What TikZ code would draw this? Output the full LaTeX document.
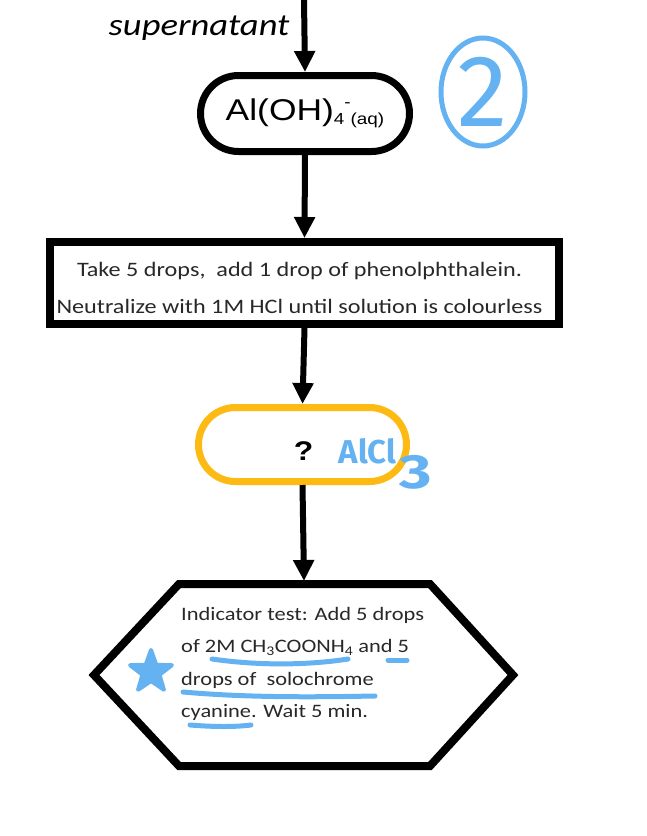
\documentclass[tikz,border=0pt]{standalone}
\usepackage{fontspec}
\usetikzlibrary{arrows.meta,shapes.misc,shapes.geometric}
\newfontfamily\boxfont[FakeStretch=1.18]{Carlito}
\newfontfamily\arialfont[FakeStretch=1.18]{Liberation Sans}
\newfontfamily\handfont{Fira Sans}
\definecolor{pen}{RGB}{100,178,242}
\definecolor{amber}{RGB}{252,186,18}
\definecolor{ink}{RGB}{40,40,40}
\begin{document}
\begin{tikzpicture}[x=1pt,y=-1pt,
  flow/.style={line width=6pt,-{Triangle[length=21pt,width=20pt]}},
  stad/.style={rounded rectangle, draw, line width=7pt, minimum width=209pt,
    minimum height=76pt, inner sep=0pt},
  stepbox/.style={draw, line width=8pt, minimum width=509pt, minimum height=82pt,
    inner sep=0pt, align=center, text=ink,
    font=\boxfont\fontsize{20.5}{37}\selectfont},
  annot/.style={draw=pen, line width=5pt, line cap=round, line join=round}]
\useasboundingbox (0,0) rectangle (647,836);

\coordinate (top) at (304,0);
\node[anchor=base east, font=\boxfont\itshape\fontsize{31}{31}\selectfont] (sup) at (293,35) {supernatant};

\node[stad] (n1) at (305,113.5) {\arialfont\fontsize{30}{30}\selectfont
  Al(OH)\raisebox{-4pt}{\fontsize{16}{16}\selectfont 4}\raisebox{13pt}{\fontsize{16}{16}\selectfont -}\raisebox{-4pt}{\fontsize{16}{16}\selectfont (aq)}};

\node[stepbox] (n2) at (304.5,283) {\rule{0pt}{24pt}Take 5 drops,\ \ add 1 drop of phenolphthalein.\hspace*{10pt}\\
  Neutralize with 1M HCl until solution is colourless\hspace*{10pt}};

\node[stad, draw=amber, minimum width=208pt, minimum height=74pt,
  font=\arialfont\bfseries\fontsize{27}{27}\selectfont] (n3) at (302.5,444.5) {\raisebox{-16pt}[0pt][0pt]{\hspace{2pt}?}};

% hexagon
\coordinate (hextop) at (304,581);
\draw[line width=8pt, line join=miter] (179,584) -- (430,584) -- (513,675) -- (430,766)
  -- (179,766) -- (94,675) -- cycle;
\node[anchor=north west, align=left, inner sep=0pt, text=ink,
  font=\boxfont\fontsize{19}{32.3}\selectfont] (n4) at (181,607)
  {Indicator test: Add 5 drops\\
   of 2M CH\textsubscript{3}COONH\textsubscript{4} and 5\\
   drops of\ \ solochrome\\
   cyanine. Wait 5 min.};

\draw[flow] (top) -- (n1.north);
\draw[flow] (n1.south) -- (n2.north);
\draw[flow] (n2.south) -- (n3.north);
\draw[flow] (n3.south) -- (hextop);

% blue annotations
\node[ellipse, draw=pen, line width=5pt, minimum width=84pt, minimum height=108pt,
  inner sep=0pt, text=pen, font=\handfont\fontsize{102}{102}\selectfont] (two) at (483,92) {\raisebox{0pt}[\height][0pt]{2}};
\node[anchor=base west, text=pen, font=\handfont\bfseries\fontsize{33}{33}\selectfont]
  (alcl) at (335,463) {AlCl\hspace{3pt}\raisebox{-25pt}{\fontsize{48}{48}\selectfont\scalebox{1.3}[1]{3}}};
\filldraw[pen, line width=4pt, line join=round, shift={(151,672)}]
  (-90:22) \foreach \k in {0,...,4} { -- (-90+72*\k:22) -- (-54+72*\k:9) } -- cycle;
\draw[annot] (212,659) .. controls (260,666) and (310,665) .. (348,659);
\draw[annot] (388,660) -- (407,660);
\draw[annot] (183,692) .. controls (250,698) and (320,697) .. (375,696);
\draw[annot] (190,725) .. controls (215,727) and (235,727) .. (251,725);
\end{tikzpicture}
\end{document}
